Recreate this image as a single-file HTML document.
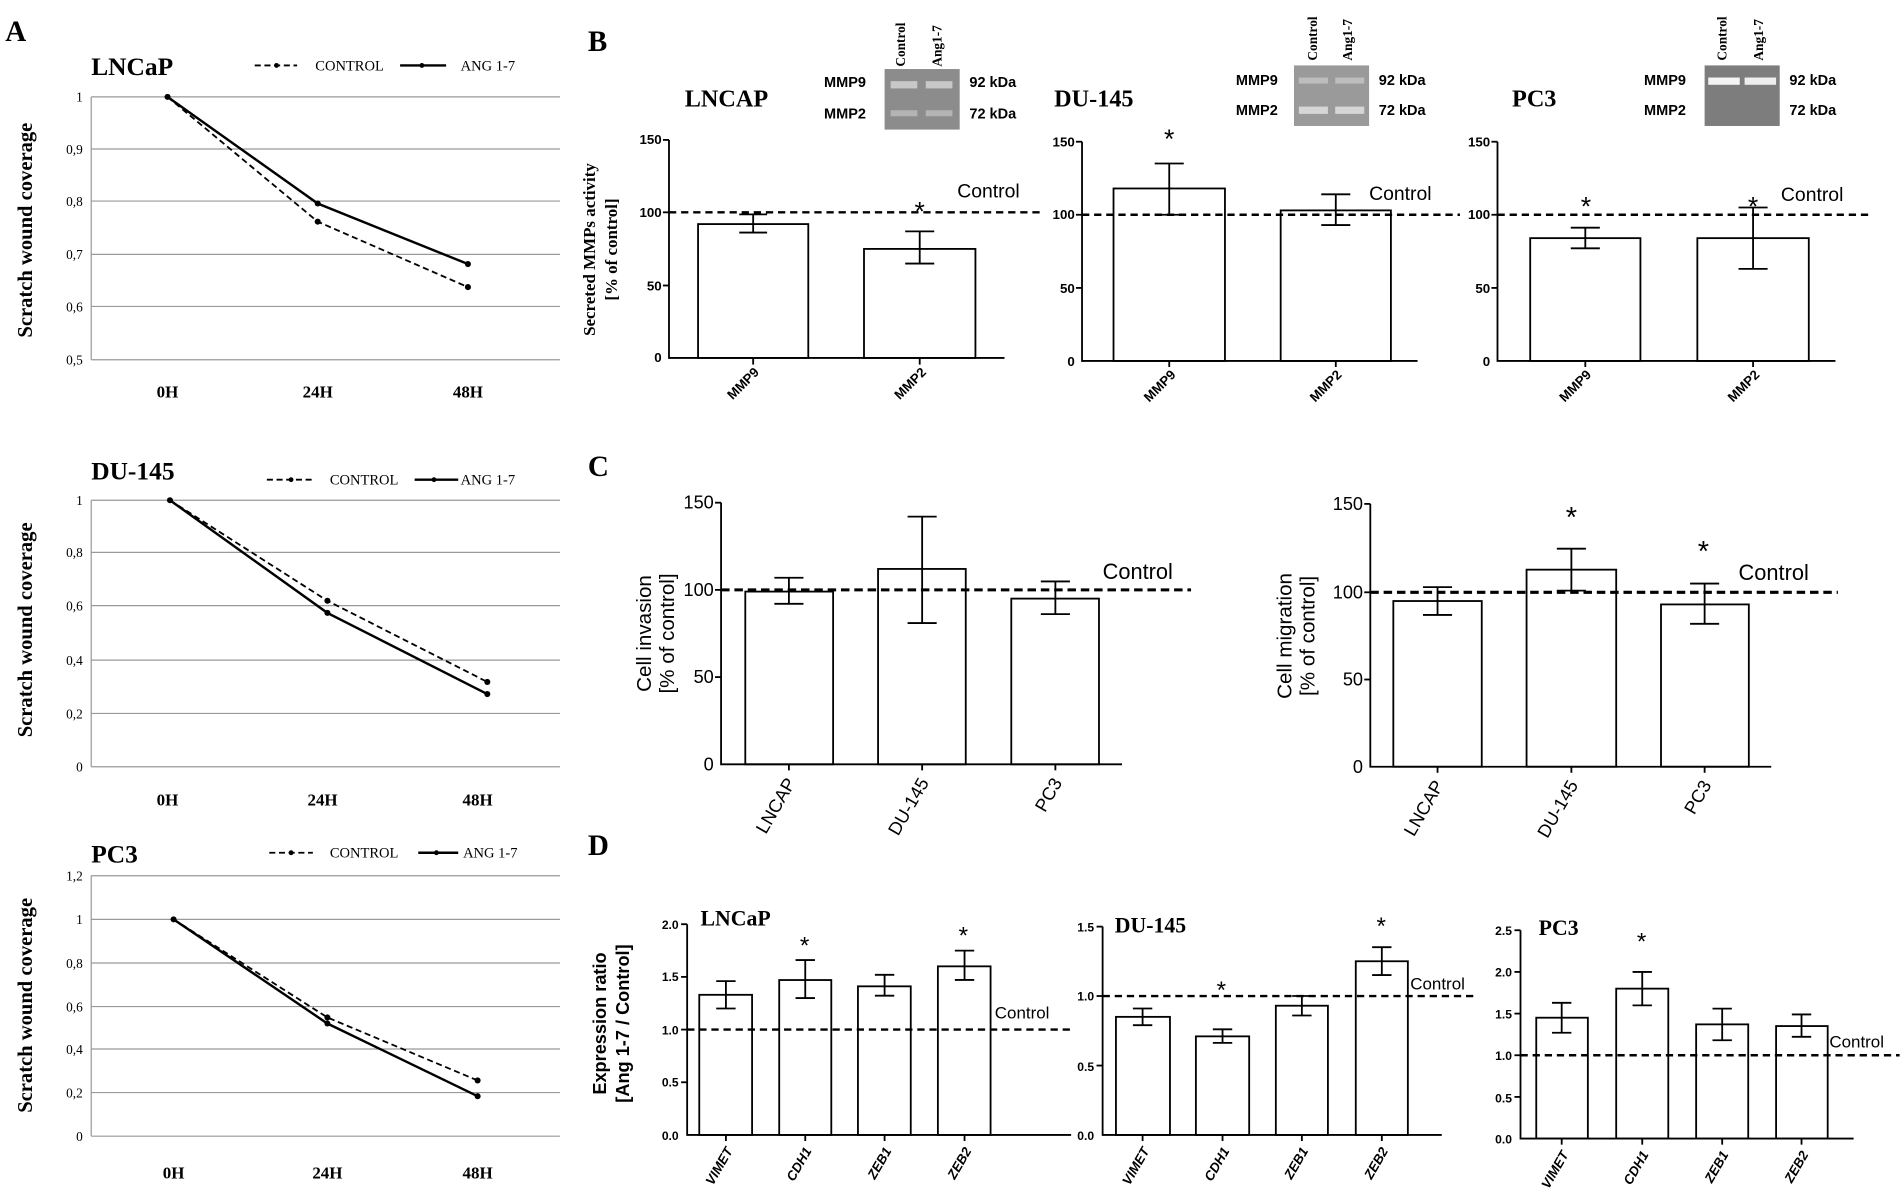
<!DOCTYPE html>
<html><head><meta charset="utf-8"><style>
html,body{margin:0;padding:0;background:#fff;}
svg{display:block;}
.s{font-family:"Liberation Serif",serif;}
.a{font-family:"Liberation Sans",sans-serif;}
</style></head><body>
<svg width="1900" height="1204" viewBox="0 0 1568 994" xmlns="http://www.w3.org/2000/svg">
<rect width="1568" height="994" fill="#fff"/>
<g class="s" font-weight="bold" font-size="24">
<text x="4" y="34">A</text><text x="485" y="42">B</text><text x="485" y="393">C</text><text x="485" y="706">D</text>
</g>

<!-- A1 -->
<g stroke="#999" stroke-width="1">
<line x1="75" y1="80" x2="462" y2="80"/><line x1="75" y1="123" x2="462" y2="123"/><line x1="75" y1="166" x2="462" y2="166"/><line x1="75" y1="210" x2="462" y2="210"/><line x1="75" y1="253" x2="462" y2="253"/><line x1="75" y1="297" x2="462" y2="297"/><line x1="75" y1="80" x2="75" y2="297"/>
</g>
<g class="s" font-size="11" text-anchor="end"><text x="68" y="84">1</text><text x="68" y="127">0,9</text><text x="68" y="170">0,8</text><text x="68" y="214">0,7</text><text x="68" y="257">0,6</text><text x="68" y="301">0,5</text></g>
<g class="s" font-size="14" font-weight="bold" text-anchor="middle"><text x="138" y="328">0H</text><text x="262" y="328">24H</text><text x="386" y="328">48H</text></g>
<polyline points="138,80 262,183 386,237" fill="none" stroke="#000" stroke-width="1.5" stroke-dasharray="5,3"/>
<polyline points="138,80 262,168 386,218" fill="none" stroke="#000" stroke-width="2"/>
<g fill="#000"><circle cx="138" cy="80" r="2.5"/><circle cx="262" cy="183" r="2.5"/><circle cx="386" cy="237" r="2.5"/><circle cx="262" cy="168" r="2.5"/><circle cx="386" cy="218" r="2.5"/></g>
<text class="s" x="75" y="62" font-size="21" font-weight="bold">LNCaP</text>
<line x1="210" y1="54" x2="245" y2="54" stroke="#000" stroke-width="1.5" stroke-dasharray="5,3"/><circle cx="228" cy="54" r="2"/>
<text class="s" x="260" y="58" font-size="12">CONTROL</text>
<line x1="330" y1="54" x2="368" y2="54" stroke="#000" stroke-width="2"/><circle cx="348" cy="54" r="2"/>
<text class="s" x="380" y="58" font-size="12">ANG 1-7</text>
<text class="s" font-size="17" font-weight="bold" text-anchor="middle" transform="translate(26,190) rotate(-90)">Scratch wound coverage</text>

<!-- A2 -->
<g stroke="#999" stroke-width="1">
<line x1="75" y1="413" x2="462" y2="413"/><line x1="75" y1="456" x2="462" y2="456"/><line x1="75" y1="500" x2="462" y2="500"/><line x1="75" y1="545" x2="462" y2="545"/><line x1="75" y1="589" x2="462" y2="589"/><line x1="75" y1="633" x2="462" y2="633"/><line x1="75" y1="413" x2="75" y2="633"/>
</g>
<g class="s" font-size="11" text-anchor="end"><text x="68" y="417">1</text><text x="68" y="460">0,8</text><text x="68" y="504">0,6</text><text x="68" y="549">0,4</text><text x="68" y="593">0,2</text><text x="68" y="637">0</text></g>
<g class="s" font-size="14" font-weight="bold" text-anchor="middle"><text x="138" y="665">0H</text><text x="266" y="665">24H</text><text x="394" y="665">48H</text></g>
<polyline points="140,413 270,496 402,563" fill="none" stroke="#000" stroke-width="1.5" stroke-dasharray="5,3"/>
<polyline points="140,413 270,506 402,573" fill="none" stroke="#000" stroke-width="2"/>
<g fill="#000"><circle cx="140" cy="413" r="2.5"/><circle cx="270" cy="496" r="2.5"/><circle cx="402" cy="563" r="2.5"/><circle cx="270" cy="506" r="2.5"/><circle cx="402" cy="573" r="2.5"/></g>
<text class="s" x="75" y="396" font-size="21" font-weight="bold">DU-145</text>
<line x1="220" y1="396" x2="258" y2="396" stroke="#000" stroke-width="1.5" stroke-dasharray="5,3"/><circle cx="240" cy="396" r="2"/>
<text class="s" x="272" y="400" font-size="12">CONTROL</text>
<line x1="342" y1="396" x2="378" y2="396" stroke="#000" stroke-width="2"/><circle cx="358" cy="396" r="2"/>
<text class="s" x="380" y="400" font-size="12">ANG 1-7</text>
<text class="s" font-size="17" font-weight="bold" text-anchor="middle" transform="translate(26,520) rotate(-90)">Scratch wound coverage</text>

<!-- A3 -->
<g stroke="#999" stroke-width="1">
<line x1="75" y1="723" x2="462" y2="723"/><line x1="75" y1="759" x2="462" y2="759"/><line x1="75" y1="795" x2="462" y2="795"/><line x1="75" y1="831" x2="462" y2="831"/><line x1="75" y1="866" x2="462" y2="866"/><line x1="75" y1="902" x2="462" y2="902"/><line x1="75" y1="938" x2="462" y2="938"/><line x1="75" y1="723" x2="75" y2="938"/>
</g>
<g class="s" font-size="11" text-anchor="end"><text x="68" y="727">1,2</text><text x="68" y="763">1</text><text x="68" y="799">0,8</text><text x="68" y="835">0,6</text><text x="68" y="870">0,4</text><text x="68" y="906">0,2</text><text x="68" y="942">0</text></g>
<g class="s" font-size="14" font-weight="bold" text-anchor="middle"><text x="143" y="973">0H</text><text x="270" y="973">24H</text><text x="394" y="973">48H</text></g>
<polyline points="143,759 270,840 394,892" fill="none" stroke="#000" stroke-width="1.5" stroke-dasharray="5,3"/>
<polyline points="143,759 270,845 394,905" fill="none" stroke="#000" stroke-width="2"/>
<g fill="#000"><circle cx="143" cy="759" r="2.5"/><circle cx="270" cy="840" r="2.5"/><circle cx="394" cy="892" r="2.5"/><circle cx="270" cy="845" r="2.5"/><circle cx="394" cy="905" r="2.5"/></g>
<text class="s" x="75" y="712" font-size="21" font-weight="bold">PC3</text>
<line x1="222" y1="704" x2="258" y2="704" stroke="#000" stroke-width="1.5" stroke-dasharray="5,3"/><circle cx="240" cy="704" r="2"/>
<text class="s" x="272" y="708" font-size="12">CONTROL</text>
<line x1="345" y1="704" x2="378" y2="704" stroke="#000" stroke-width="2"/><circle cx="360" cy="704" r="2"/>
<text class="s" x="382" y="708" font-size="12">ANG 1-7</text>
<text class="s" font-size="17" font-weight="bold" text-anchor="middle" transform="translate(26,830) rotate(-90)">Scratch wound coverage</text>

<!-- B -->
<g stroke="#000" fill="none" stroke-width="1.5">
<polyline points="552,115.5 552,295.5 829,295.5"/>
<line x1="547" y1="115.5" x2="552" y2="115.5"/><line x1="547" y1="235.7" x2="552" y2="235.7"/><line x1="547" y1="175.3" x2="552" y2="175.3"/>
<rect x="576" y="185" width="91" height="110.5"/><rect x="713" y="205.5" width="92" height="90"/>
<path d="M621.5 192V177M610 192H633M610 177H633M759 217.6V191M747 217.6H771M747 191H771"/>
<line x1="621.5" y1="295.5" x2="621.5" y2="301"/><line x1="759" y1="295.5" x2="759" y2="301"/>
<polyline points="893,117 893,298 1170,298"/>
<line x1="888" y1="117" x2="893" y2="117"/><line x1="888" y1="177.3" x2="893" y2="177.3"/><line x1="888" y1="237.7" x2="893" y2="237.7"/>
<rect x="919" y="155.6" width="92" height="142.4"/><rect x="1057" y="173.7" width="91" height="124.3"/>
<path d="M965 177.3V135M953 177.3H977M953 135H977M1102.5 185.8V160.4M1090.5 185.8H1114.5M1090.5 160.4H1114.5"/>
<line x1="965" y1="298" x2="965" y2="303"/><line x1="1102.5" y1="298" x2="1102.5" y2="303"/>
<polyline points="1236,117 1236,298 1515,298"/>
<line x1="1231" y1="117" x2="1236" y2="117"/><line x1="1231" y1="177.3" x2="1236" y2="177.3"/><line x1="1231" y1="237.7" x2="1236" y2="237.7"/>
<rect x="1263" y="196.6" width="91" height="101.4"/><rect x="1401" y="196.6" width="92" height="101.4"/>
<path d="M1308.5 205V188M1296.5 205H1320.5M1296.5 188H1320.5M1447 222V171.3M1435 222H1459M1435 171.3H1459"/>
<line x1="1308.5" y1="298" x2="1308.5" y2="303"/><line x1="1447" y1="298" x2="1447" y2="303"/>
</g>
<g stroke="#000" stroke-width="2" stroke-dasharray="6,4">
<line x1="552" y1="175.3" x2="858" y2="175.3"/><line x1="893" y1="177.3" x2="1205" y2="177.3"/><line x1="1236" y1="177.3" x2="1545" y2="177.3"/>
</g>
<g class="a" font-size="11" font-weight="bold" text-anchor="end">
<text x="546" y="119">150</text><text x="546" y="179">100</text><text x="546" y="240">50</text><text x="546" y="299">0</text>
<text x="887" y="121">150</text><text x="887" y="181">100</text><text x="887" y="242">50</text><text x="887" y="302">0</text>
<text x="1230" y="121">150</text><text x="1230" y="181">100</text><text x="1230" y="242">50</text><text x="1230" y="302">0</text>
</g>
<g class="a" font-size="11" font-weight="bold" text-anchor="end">
<text transform="translate(627,308) rotate(-45)">MMP9</text><text transform="translate(765,308) rotate(-45)">MMP2</text>
<text transform="translate(971,310) rotate(-45)">MMP9</text><text transform="translate(1108,310) rotate(-45)">MMP2</text>
<text transform="translate(1314,310) rotate(-45)">MMP9</text><text transform="translate(1453,310) rotate(-45)">MMP2</text>
</g>
<g class="a" font-size="16"><text x="790" y="163">Control</text><text x="1130" y="165">Control</text><text x="1470" y="166">Control</text></g>
<g class="a" font-size="22" text-anchor="middle"><text x="759" y="182">*</text><text x="965" y="122">*</text><text x="1309" y="178">*</text><text x="1447" y="178">*</text></g>
<g class="s" font-size="14" font-weight="bold" text-anchor="middle">
<text transform="translate(491,206) rotate(-90)">Secreted MMPs activity</text>
<text transform="translate(509,206) rotate(-90)">[% of control]</text>
</g>
<g class="s" font-size="20" font-weight="bold"><text x="565" y="88">LNCAP</text><text x="870" y="88">DU-145</text><text x="1248" y="88">PC3</text></g>
<!-- gels -->
<rect x="730" y="57" width="62" height="50" fill="#8c8c8c"/>
<rect x="735" y="67" width="22" height="6" fill="#c8c8c8"/><rect x="764" y="67" width="22" height="6" fill="#c8c8c8"/>
<rect x="735" y="91" width="22" height="5" fill="#b4b4b4"/><rect x="764" y="91" width="22" height="5" fill="#b4b4b4"/>
<rect x="1068" y="54" width="62" height="50" fill="#9a9a9a"/>
<rect x="1072" y="64" width="24" height="5" fill="#bdbdbd"/><rect x="1102" y="64" width="24" height="5" fill="#bdbdbd"/>
<rect x="1072" y="88" width="24" height="6" fill="#d6d6d6"/><rect x="1102" y="88" width="24" height="6" fill="#d6d6d6"/>
<rect x="1407" y="54" width="62" height="50" fill="#7d7d7d"/>
<rect x="1410" y="64" width="26" height="6" fill="#f4f4f4"/><rect x="1440" y="64" width="26" height="6" fill="#eeeeee"/>
<g class="s" font-size="11" font-weight="bold">
<text transform="translate(747,55) rotate(-90)">Control</text><text transform="translate(777,55) rotate(-90)">Ang1-7</text>
<text transform="translate(1087,50) rotate(-90)">Control</text><text transform="translate(1116,50) rotate(-90)">Ang1-7</text>
<text transform="translate(1425,50) rotate(-90)">Control</text><text transform="translate(1455,50) rotate(-90)">Ang1-7</text>
</g>
<g class="a" font-size="12" font-weight="bold">
<text x="680" y="72">MMP9</text><text x="680" y="98">MMP2</text><text x="800" y="72">92 kDa</text><text x="800" y="98">72 kDa</text>
<text x="1020" y="70">MMP9</text><text x="1020" y="95">MMP2</text><text x="1138" y="70">92 kDa</text><text x="1138" y="95">72 kDa</text>
<text x="1357" y="70">MMP9</text><text x="1357" y="95">MMP2</text><text x="1477" y="70">92 kDa</text><text x="1477" y="95">72 kDa</text>
</g>

<!-- C -->
<g stroke="#000" fill="none" stroke-width="1.5">
<polyline points="595,415 595,631 926,631"/>
<line x1="590" y1="415" x2="595" y2="415"/><line x1="590" y1="487" x2="595" y2="487"/><line x1="590" y1="559" x2="595" y2="559"/>
<rect x="615" y="488.4" width="72.5" height="142.6"/><rect x="724.6" y="469.7" width="72.4" height="161.3"/><rect x="834.6" y="494.2" width="72.4" height="136.8"/>
<path d="M651 498.5V477M639 498.5H663M639 477H663M761 514.4V426.5M749 514.4H773M749 426.5H773M871 507V480M859 507H883M859 480H883"/>
<line x1="651" y1="631" x2="651" y2="636"/><line x1="761" y1="631" x2="761" y2="636"/><line x1="871" y1="631" x2="871" y2="636"/>
<polyline points="1131,416 1131,633 1462,633"/>
<line x1="1126" y1="416" x2="1131" y2="416"/><line x1="1126" y1="489" x2="1131" y2="489"/><line x1="1126" y1="561" x2="1131" y2="561"/>
<rect x="1150" y="496.2" width="73" height="136.8"/><rect x="1260" y="470.3" width="74" height="162.7"/><rect x="1371" y="499" width="72.5" height="134"/>
<path d="M1186.5 507.7V484.7M1174.5 507.7H1198.5M1174.5 484.7H1198.5M1297 487.6V453M1285 487.6H1309M1285 453H1309M1407 515V481.8M1395 515H1419M1395 481.8H1419"/>
<line x1="1186.5" y1="633" x2="1186.5" y2="638"/><line x1="1297" y1="633" x2="1297" y2="638"/><line x1="1407" y1="633" x2="1407" y2="638"/>
</g>
<g stroke="#000" stroke-width="2.5" stroke-dasharray="7,4"><line x1="595" y1="487" x2="983" y2="487"/><line x1="1131" y1="489" x2="1517" y2="489"/></g>
<g class="a" font-size="15" text-anchor="end">
<text x="589" y="420">150</text><text x="589" y="492">100</text><text x="589" y="564">50</text><text x="589" y="636">0</text>
<text x="1125" y="421">150</text><text x="1125" y="494">100</text><text x="1125" y="566">50</text><text x="1125" y="638">0</text>
<text transform="translate(657,646) rotate(-60)">LNCAP</text><text transform="translate(767,646) rotate(-60)">DU-145</text><text transform="translate(877,646) rotate(-60)">PC3</text>
<text transform="translate(1192,648) rotate(-60)">LNCAP</text><text transform="translate(1303,648) rotate(-60)">DU-145</text><text transform="translate(1413,648) rotate(-60)">PC3</text>
</g>
<g class="a" font-size="18"><text x="910" y="478">Control</text><text x="1435" y="479">Control</text></g>
<g class="a" font-size="24" text-anchor="middle"><text x="1297" y="435">*</text><text x="1406" y="463">*</text></g>
<g class="a" font-size="17" text-anchor="middle">
<text transform="translate(537,523) rotate(-90)">Cell invasion</text><text transform="translate(556,523) rotate(-90)">[% of control]</text>
<text transform="translate(1066,525) rotate(-90)">Cell migration</text><text transform="translate(1085,525) rotate(-90)">[% of control]</text>
</g>

<!-- D -->
<g stroke="#000" fill="none" stroke-width="1.5">
<polyline points="567,763 567,937 884,937"/>
<line x1="562" y1="763" x2="567" y2="763"/><line x1="562" y1="806.5" x2="567" y2="806.5"/><line x1="562" y1="850" x2="567" y2="850"/><line x1="562" y1="893.5" x2="567" y2="893.5"/>
<rect x="577" y="821.3" width="43.6" height="115.7"/><rect x="643" y="809.1" width="43" height="127.9"/><rect x="708" y="814.3" width="43.6" height="122.7"/><rect x="774" y="797.8" width="43.5" height="139.2"/>
<path d="M599 832.6V810M591 832.6H607M591 810H607M664.5 824V792.6M656.5 824H672.5M656.5 792.6H672.5M730 822V804.8M722 822H738M722 804.8H738M796 809V784.8M788 809H804M788 784.8H804"/>
<line x1="599" y1="937" x2="599" y2="942"/><line x1="664.5" y1="937" x2="664.5" y2="942"/><line x1="730" y1="937" x2="730" y2="942"/><line x1="796" y1="937" x2="796" y2="942"/>
<polyline points="910,765 910,937 1190,937"/>
<line x1="905" y1="765" x2="910" y2="765"/><line x1="905" y1="822.3" x2="910" y2="822.3"/><line x1="905" y1="879.7" x2="910" y2="879.7"/>
<rect x="921" y="839.5" width="44.6" height="97.5"/><rect x="987" y="855.6" width="44" height="81.4"/><rect x="1053" y="830.3" width="43" height="106.7"/><rect x="1119" y="793.6" width="43" height="143.4"/>
<path d="M943 846.4V832.6M935 846.4H951M935 832.6H951M1009 861V849.8M1001 861H1017M1001 849.8H1017M1074.5 838.4V822.3M1066.5 838.4H1082.5M1066.5 822.3H1082.5M1140.5 805V782M1132.5 805H1148.5M1132.5 782H1148.5"/>
<line x1="943" y1="937" x2="943" y2="942"/><line x1="1009" y1="937" x2="1009" y2="942"/><line x1="1074.5" y1="937" x2="1074.5" y2="942"/><line x1="1140.5" y1="937" x2="1140.5" y2="942"/>
<polyline points="1255,768 1255,940 1530,940"/>
<line x1="1250" y1="768" x2="1255" y2="768"/><line x1="1250" y1="802.4" x2="1255" y2="802.4"/><line x1="1250" y1="836.8" x2="1255" y2="836.8"/><line x1="1250" y1="871.2" x2="1255" y2="871.2"/><line x1="1250" y1="905.6" x2="1255" y2="905.6"/>
<rect x="1268" y="840.2" width="42.6" height="99.8"/><rect x="1334" y="816.2" width="43" height="123.8"/><rect x="1400" y="845.7" width="43" height="94.3"/><rect x="1466" y="847.1" width="42.6" height="92.9"/>
<path d="M1289 852.6V827.9M1281 852.6H1297M1281 827.9H1297M1355.5 830V802.4M1347.5 830H1363.5M1347.5 802.4H1363.5M1421.5 858.8V832.7M1413.5 858.8H1429.5M1413.5 832.7H1429.5M1487 856V837.5M1479 856H1495M1479 837.5H1495"/>
<line x1="1289" y1="940" x2="1289" y2="945"/><line x1="1355.5" y1="940" x2="1355.5" y2="945"/><line x1="1421.5" y1="940" x2="1421.5" y2="945"/><line x1="1487" y1="940" x2="1487" y2="945"/>
</g>
<g stroke="#000" stroke-width="2" stroke-dasharray="6,4"><line x1="567" y1="850" x2="884" y2="850"/><line x1="910" y1="822.3" x2="1216" y2="822.3"/><line x1="1255" y1="871.2" x2="1568" y2="871.2"/></g>
<g class="a" font-size="10" font-weight="bold" text-anchor="end">
<text x="560" y="767">2.0</text><text x="560" y="810">1.5</text><text x="560" y="854">1.0</text><text x="560" y="897">0.5</text><text x="560" y="941">0.0</text>
<text x="903" y="769">1.5</text><text x="903" y="826">1.0</text><text x="903" y="884">0.5</text><text x="903" y="941">0.0</text>
<text x="1248" y="772">2.5</text><text x="1248" y="806">2.0</text><text x="1248" y="841">1.5</text><text x="1248" y="875">1.0</text><text x="1248" y="910">0.5</text><text x="1248" y="944">0.0</text>
</g>
<g class="a" font-size="11" font-weight="bold" font-style="italic" text-anchor="end">
<text transform="translate(605,950) rotate(-60)">VIMET</text><text transform="translate(670,950) rotate(-60)">CDH1</text><text transform="translate(736,950) rotate(-60)">ZEB1</text><text transform="translate(802,950) rotate(-60)">ZEB2</text>
<text transform="translate(949,950) rotate(-60)">VIMET</text><text transform="translate(1015,950) rotate(-60)">CDH1</text><text transform="translate(1080,950) rotate(-60)">ZEB1</text><text transform="translate(1146,950) rotate(-60)">ZEB2</text>
<text transform="translate(1295,953) rotate(-60)">VIMET</text><text transform="translate(1361,953) rotate(-60)">CDH1</text><text transform="translate(1427,953) rotate(-60)">ZEB1</text><text transform="translate(1493,953) rotate(-60)">ZEB2</text>
</g>
<g class="a" font-size="14"><text x="821" y="841">Control</text><text x="1164" y="817">Control</text><text x="1510" y="865">Control</text></g>
<g class="a" font-size="20" text-anchor="middle"><text x="664" y="787">*</text><text x="795" y="779">*</text><text x="1008" y="824">*</text><text x="1140" y="771">*</text><text x="1355" y="784">*</text></g>
<g class="s" font-size="18" font-weight="bold"><text x="578" y="764">LNCaP</text><text x="920" y="770">DU-145</text><text x="1270" y="772">PC3</text></g>
<g class="a" font-size="15" font-weight="bold" text-anchor="middle">
<text transform="translate(500,845) rotate(-90)">Expression ratio</text><text transform="translate(519,845) rotate(-90)">[Ang 1-7 / Control]</text>
</g>
</svg>
</body></html>
